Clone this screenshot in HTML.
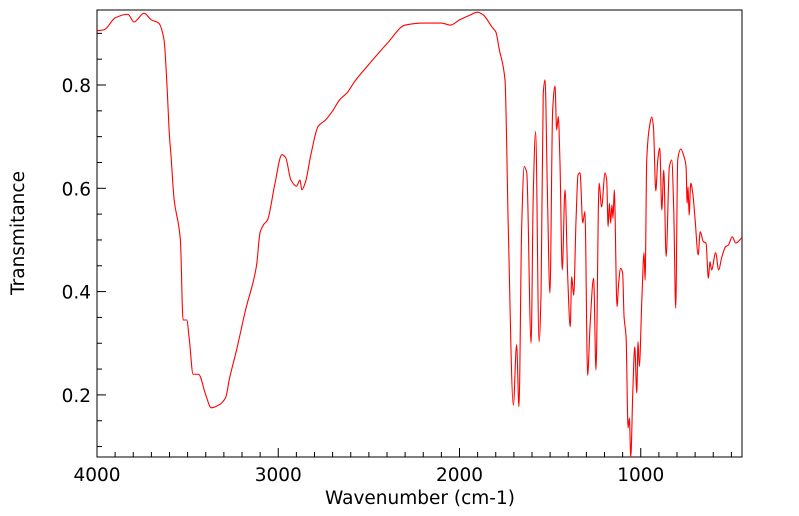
<!DOCTYPE html>
<html><head><meta charset="utf-8"><style>
html,body{margin:0;padding:0;background:#fff;}
svg{display:block;font-family:"DejaVu Sans","Liberation Sans",sans-serif;}
</style></head><body>
<svg id="chart" width="799" height="516" viewBox="0 0 799 516">
<rect x="97" y="10" width="645" height="447" fill="none" stroke="#000" stroke-width="1"/>
<g id="ticks"></g>
<g id="labels" font-size="18.5" fill="#000"></g>
<path id="line" fill="none" stroke="#ff0000" stroke-width="1.1"/>
<text x="420" y="504" font-size="18.5" text-anchor="middle">Wavenumber (cm-1)</text>
<text x="24" y="233" font-size="18.5" text-anchor="middle" transform="rotate(-90 24 233)">Transmitance</text>
</svg>
<script>
const wavenumbers=[4000,3960,3900,3830,3796,3740,3700,3660,3630,3614,3600,3592,3575,3540,3525,3505,3490,3470,3440,3400,3370,3330,3290,3270,3230,3180,3120,3100,3080,3060,3020,2980,2960,2930,2900,2880,2870,2850,2820,2780,2740,2700,2660,2620,2580,2500,2400,2300,2200,2100,2050,2000,1950,1900,1870,1820,1800,1780,1749,1731,1703,1685,1672,1657,1643,1629,1605,1593,1580,1561,1550,1538,1528,1515,1501,1486,1473,1464,1455,1446,1433,1418,1403,1389,1381,1370,1357,1346,1335,1320,1308,1293,1280,1260,1247,1230,1216,1197,1188,1180,1173,1166,1159,1153,1146,1131,1122,1111,1100,1092,1081,1070,1063,1055,1044,1033,1022,1015,1008,994,982,976,967,952,939,930,917,906,895,884,873,860,842,829,818,807,796,779,761,750,744,739,733,724,713,700,683,672,655,640,627,618,609,587,570,554,532,517,495,476,443];
const transmittance=[0.905,0.907,0.93,0.937,0.922,0.939,0.926,0.92,0.887,0.80,0.70,0.665,0.58,0.50,0.345,0.345,0.305,0.24,0.24,0.2,0.175,0.18,0.195,0.23,0.287,0.365,0.45,0.515,0.53,0.538,0.606,0.665,0.66,0.616,0.604,0.616,0.597,0.612,0.665,0.72,0.732,0.75,0.772,0.785,0.806,0.84,0.88,0.916,0.92,0.92,0.916,0.926,0.934,0.941,0.936,0.912,0.903,0.868,0.81,0.526,0.18,0.297,0.177,0.525,0.642,0.63,0.30,0.59,0.71,0.303,0.397,0.784,0.81,0.59,0.397,0.752,0.798,0.713,0.739,0.655,0.442,0.597,0.429,0.332,0.429,0.393,0.539,0.626,0.63,0.533,0.555,0.238,0.332,0.426,0.248,0.61,0.564,0.63,0.616,0.526,0.571,0.533,0.568,0.542,0.597,0.371,0.416,0.445,0.436,0.351,0.313,0.136,0.155,0.08,0.204,0.293,0.204,0.303,0.255,0.384,0.475,0.422,0.655,0.719,0.738,0.719,0.595,0.655,0.678,0.558,0.635,0.468,0.642,0.655,0.558,0.368,0.655,0.676,0.661,0.642,0.571,0.603,0.548,0.61,0.59,0.539,0.471,0.516,0.497,0.494,0.426,0.458,0.442,0.475,0.442,0.465,0.487,0.49,0.506,0.494,0.504];
const xTickValues=[4000,3000,2000,1000];
const xTickLabels=["4000","3000","2000","1000"];
const yTickValues=[0.2,0.4,0.6,0.8];
const yTickLabels=["0.2","0.4","0.6","0.8"];

const L=97,R=742,T=10,B=457;
function xs(w){return 97+(4000-w)*0.18125;}
function ys(v){return 85-(v-0.8)*516.5;}
const NS="http://www.w3.org/2000/svg";
const px=wavenumbers.map(xs), py=transmittance.map(ys), n=px.length;
const dx=[],sl=[];
for(let i=0;i<n-1;i++){dx.push(px[i+1]-px[i]);sl.push((py[i+1]-py[i])/dx[i]);}
const m=[sl[0]];
for(let i=1;i<n-1;i++){m.push(sl[i-1]*sl[i]<=0?0:(3*(dx[i-1]+dx[i]))/((2*dx[i]+dx[i-1])/sl[i-1]+(dx[i]+2*dx[i-1])/sl[i]));}
m.push(sl[n-2]);
let d="M"+px[0].toFixed(2)+","+py[0].toFixed(2);
for(let i=0;i<n-1;i++){const h=dx[i]/3;
d+="C"+(px[i]+h).toFixed(2)+","+(py[i]+m[i]*h).toFixed(2)+" "+(px[i+1]-h).toFixed(2)+","+(py[i+1]-m[i+1]*h).toFixed(2)+" "+px[i+1].toFixed(2)+","+py[i+1].toFixed(2);}
document.getElementById("line").setAttribute("d",d);
const tg=document.getElementById("ticks"),lg=document.getElementById("labels");
function ln(x1,y1,x2,y2){const l=document.createElementNS(NS,"line");


l.setAttribute("x1",x1);l.setAttribute("y1",y1);l.setAttribute("x2",x2);l.setAttribute("y2",y2);l.setAttribute("stroke","#000");tg.appendChild(l);}
for(let w=4000;w>=443;w-=100){const x=xs(w);ln(x,B,x,B-(w%1000===0?9:5));}
for(let k=2;k<=18;k++){const v=k*0.05;const y=ys(v);if(y<T||y>B)continue;ln(L,y,L+(k%4===0?9:5),y);}
xTickValues.forEach((v,i)=>{const t=document.createElementNS(NS,"text");


t.setAttribute("x",xs(v));t.setAttribute("y",B+24);t.setAttribute("text-anchor","middle");t.textContent=xTickLabels[i];lg.appendChild(t);});
yTickValues.forEach((v,i)=>{const t=document.createElementNS(NS,"text");


t.setAttribute("x",L-6);t.setAttribute("y",ys(v)+7);t.setAttribute("text-anchor","end");t.textContent=yTickLabels[i];lg.appendChild(t);});
</script>
</body></html>
